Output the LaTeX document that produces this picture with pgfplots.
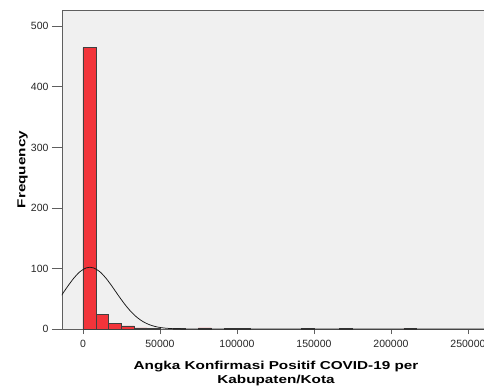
\documentclass[border=0pt]{standalone}
\usepackage{pgfplots}
\pgfplotsset{compat=1.18}
\usepackage{fontspec}
\setmainfont{Liberation Sans}
\newfontfamily\labfont{Liberation Sans}[FakeStretch=1.33]
\definecolor{bg}{RGB}{240,240,240}
\definecolor{barred}{RGB}{242,52,58}
\definecolor{framec}{RGB}{95,95,95}
\begin{document}
\begin{tikzpicture}
\begin{axis}[name=ax, at={(0,0)}, anchor=south west,
  scale only axis, width=428pt, height=319pt,
  xmin=-13600, xmax=264300, ymin=0, ymax=527,
  axis background/.style={fill=bg},
  axis line style={framec, line width=0.9pt},
  xtick={0,50000,100000,150000,200000,250000},
  xticklabels={0,50000,100000,150000,200000,250000},
  ytick={0,100,200,300,400,500},
  yticklabels={0,100,200,300,400,500},
  tick align=outside, xtick pos=lower, ytick pos=left,
  major tick length=10pt,
  x tick style={/pgfplots/major tick length=5pt},
  tick style={framec, line width=0.8pt},
  scaled x ticks=false,
  tick label style={font=\fontsize{10.5}{12}\selectfont, text=black!85},
  x tick label style={yshift=2pt},
  xlabel={Angka Konfirmasi Positif COVID-19 per\\Kabupaten/Kota},
  xlabel style={font=\labfont\bfseries\fontsize{11.5}{14.5}\selectfont, align=center,
    at={(axis description cs:0.5,0)}, anchor=center, yshift=-44.5pt},
  ylabel={Frequency},
  ylabel style={font=\labfont\bfseries\fontsize{11.5}{13}\selectfont,
    at={(axis description cs:-0.0923,0.5)}, anchor=center},
]
\addplot[ybar, bar width=8333, bar shift=0pt, fill=barred, draw=black!75, line width=0.5pt]
coordinates {
 (4167,465) (12500,24) (20833,9) (29167,5) (37500,2) (45833,1)
 (62500,1) (79167,2) (95833,1) (104167,1) (145833,1) (170833,1) (212500,1)
};
\addplot[black!90, smooth, line width=0.75pt, mark=none] coordinates {
 (-14000,55.4) (-10000,70.1) (-6000,83.8) (-2000,94.6) (2000,100.9) (4500,102)
 (7000,100.9) (11000,94.6) (15000,83.8) (19000,70.1) (23000,55.4) (27000,41.4)
 (31000,29.2) (35000,19.4) (39000,12.2) (43000,7.27) (47000,4.08) (51000,2.16)
 (55000,1.08) (59000,0.51) (63000,0.23) (67000,0.097) (71000,0.04) (75000,0.01)
};
\addplot[black!90, line width=0.75pt, mark=none] coordinates {
 (75000,0.01) (264300,0)
};
\end{axis}
\pgfresetboundingbox
\useasboundingbox ([shift={(-62pt,-57pt)}]ax.south west) rectangle ([shift={(422pt,10pt)}]ax.north west);
\end{tikzpicture}
\end{document}
